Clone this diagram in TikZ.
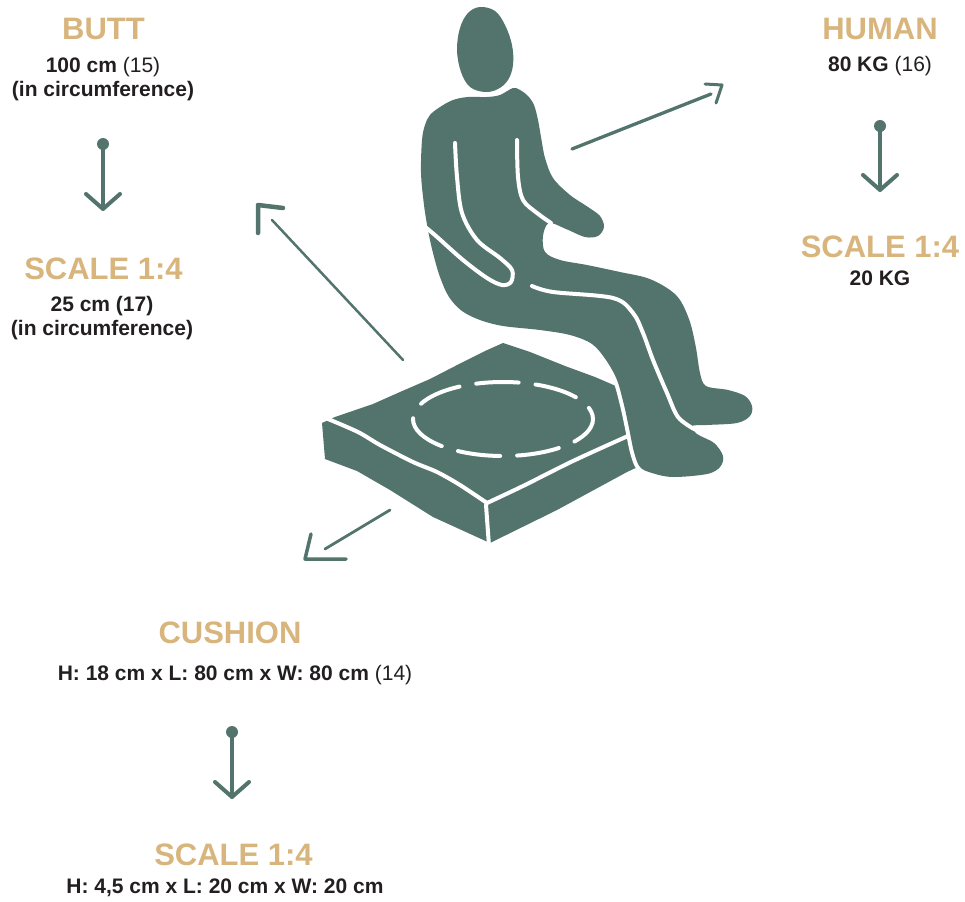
\documentclass[tikz,border=0pt]{standalone}
\usepackage{fontspec}
\setmainfont{Liberation Sans}
\usetikzlibrary{calc}
\definecolor{sage}{RGB}{83,116,108}
\definecolor{sand}{RGB}{216,181,125}
\definecolor{ink}{RGB}{35,31,32}
\newcommand\regtxt[1]{{\mdseries #1}}

\begin{document}
\begin{tikzpicture}[x=1pt,y=-1pt,
  title/.style={font=\fontsize{31}{31}\selectfont\bfseries, text=sand, inner sep=0pt, anchor=base},
  body/.style={font=\fontsize{21}{24}\selectfont\bfseries, text=ink, inner sep=0pt, anchor=base},
  stem/.style={draw=sage, line width=4pt, line cap=round},
  barb/.style={draw=sage, line width=4pt, line cap=round, line join=round},
  pointer/.style={draw=sage, line width=2.8pt, line cap=round},
  seam/.style={draw=white, line width=4pt, line cap=round, line join=round},
  silhouette/.style={fill=sage, preaction={draw=white, line width=8pt, line join=round}},
]
\useasboundingbox (0,0) rectangle (965,901);

% ---------- labels ----------
\node[title] (butt) at (103.5,40) {BUTT};
\node[body] (buttsize) at (103,73) {100 cm \regtxt{(15)}};
\node[body] (buttnote) at (103,97) {(in circumference)};
\node[title] (buttscale) at (103.5,279) {SCALE 1:4};
\node[body] (buttsmall) at (102,311) {25 cm (17)};
\node[body] (buttsmallnote) at (102,335) {(in circumference)};

\node[title] (human) at (880,40) {HUMAN};
\node[body] (humanmass) at (880,72) {80 KG \regtxt{(16)}};
\node[title] (humanscale) at (880,257) {SCALE 1:4};
\node[body] (humansmall) at (880,285) {20 KG};

\node[title] (cushion) at (230,643) {CUSHION};
\node[body] (cushionsize) at (235,680) {H: 18 cm x L: 80 cm x W: 80 cm \regtxt{(14)}};
\node[title] (cushionscale) at (233.5,865) {SCALE 1:4};
\node[body] (cushionsmall) at (225,893) {H: 4,5 cm x L: 20 cm x W: 20 cm};

% ---------- scaling arrows ----------
\foreach \nm/\x/\ya/\yb in {butt/103/144/209, human/880/126/190, cushion/232/732/797}{
  \coordinate (\nm dot) at (\x,\ya);
  \coordinate (\nm tip) at (\x,\yb);
  \fill[sage] (\nm dot) circle (6);
  \draw[stem] (\nm dot) -- (\nm tip);
  \draw[barb] ($(\nm tip)+(-17,-15)$) -- (\nm tip) -- ($(\nm tip)+(17,-15)$);
}

% ---------- pointers from the figure ----------
\coordinate (seatfrom) at (403,360);
\coordinate (seatto) at (272,220);
\coordinate (seatcorner) at (258,205);
\draw[pointer, line width=2.5pt] (seatfrom) -- (seatto);
\draw[barb, line width=4.5pt] ($(seatcorner)+(25,3)$) -- (seatcorner) -- ($(seatcorner)+(0,28)$);

\coordinate (bodyfrom) at (572,149);
\coordinate (bodyto) at (711,94);
\coordinate (bodycorner) at (722,85);
\draw[pointer, line width=3.3pt] (bodyfrom) -- (bodyto);
\draw[barb, line width=3pt] ($(bodycorner)+(-17,-1)$) -- (bodycorner) -- ($(bodycorner)+(-6,18)$);

\coordinate (padfrom) at (390,510);
\coordinate (padto) at (325,549);
\coordinate (padcorner) at (305,559);
\draw[pointer] (padfrom) -- (padto);
\draw[barb, line width=3.5pt] ($(padcorner)+(6,-25)$) -- (padcorner) -- ($(padcorner)+(41,0)$);

% ---------- cushion ----------
\fill[sage] (322,423) -- (335,417) -- (373,404) -- (400,392) -- (430,379) -- (463,362)
  -- (485,351) -- (503,343) -- (530,352) -- (565,366) -- (595,377) -- (625,390)
  -- (642,440) -- (640,466) -- (627,472) -- (557,510) -- (490,543) -- (433,517)
  -- (390,490) -- (357,471) -- (325,459) -- cycle;
\draw[seam] plot[smooth, tension=0.5] coordinates {(328,419) (358,432) (380,445) (413,462) (437,472) (460,485) (487,503)};
\draw[seam] plot[smooth, tension=0.5] coordinates {(487,503) (523,486) (573,461) (628,436)};
\draw[seam] (486,505) -- (489,546);
\draw[white, line width=4pt, line cap=round, dash pattern=on 42.5pt off 17pt, dash phase=12pt]
  (503,419) ellipse [x radius=90, y radius=37];

% ---------- seated figure ----------
\path[silhouette] plot[smooth cycle, tension=0.55] coordinates {
  (430,115) (440,107) (453,100) (468,97) (487,97) (500,95) (513,88) (520,90)
  (528,96) (534,105) (538,120) (541,137) (545,158) (553,178) (570,195) (588,207)
  (600,216) (604,227) (598,236) (585,237) (566,229) (549,223) (543,236) (545,252)
  (560,260) (587,265) (620,272) (647,278) (667,288) (680,300) (690,322) (696,348)
  (700,373) (706,386) (728,390) (745,396) (752,406) (750,416) (737,423) (707,425)
  (692,426) (697,434) (714,443) (723,456) (720,467) (707,474) (673,477) (652,473)
  (640,467) (634,452) (629,428) (624,405) (617,380) (606,360) (592,344) (570,335)
  (540,330) (503,326) (480,320) (462,311) (449,297) (440,277) (433,253) (428,230)
  (424,205) (421,173) (422,140) (425,125)};
% head
\path[silhouette] plot[smooth cycle, tension=0.6] coordinates {
  (480,7) (495,11) (505,25) (512,45) (513,65) (508,80) (498,89) (485,92)
  (470,87) (461,72) (457,50) (460,28) (468,13)};
% arm and leg seams
\draw[seam] plot[smooth, tension=0.55] coordinates {(455,143) (457,177) (462,213) (477,240)
  (500,258) (512,270) (511,282) (502,285) (487,278) (463,260) (436,236) (424,226)};
\draw[seam] plot[smooth, tension=0.55] coordinates {(517,140) (518,177) (523,200) (537,213) (551,223)};
\draw[seam] plot[smooth, tension=0.55] coordinates {(532,286) (553,292) (613,298) (633,313)
  (643,333) (653,360) (667,393) (678,417) (694,429)};
\end{tikzpicture}
\end{document}
